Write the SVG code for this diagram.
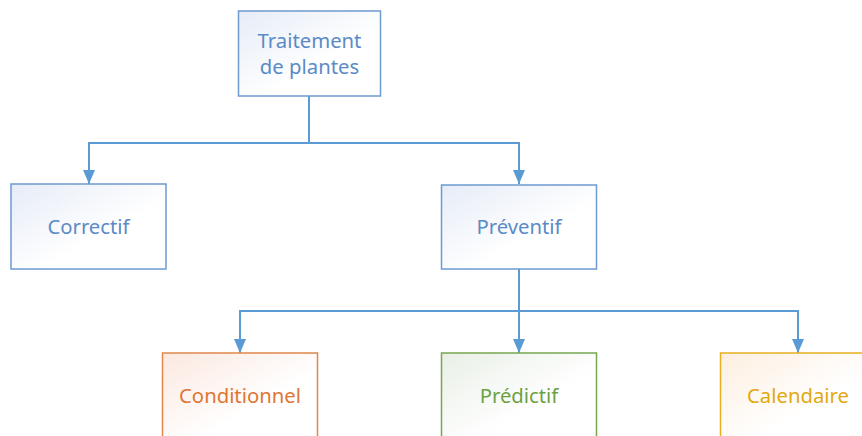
<svg xmlns="http://www.w3.org/2000/svg" width="862" height="436" viewBox="0 0 862 436">
<defs>
<linearGradient id="gBlue" x1="0" y1="0" x2="1" y2="1"><stop offset="0" stop-color="#e6ecf7"/><stop offset="0.6" stop-color="#ffffff"/></linearGradient>
<linearGradient id="gOrange" x1="0" y1="0" x2="1" y2="1"><stop offset="0" stop-color="#fbe8e0"/><stop offset="0.6" stop-color="#ffffff"/></linearGradient>
<linearGradient id="gGreen" x1="0" y1="0" x2="1" y2="1"><stop offset="0" stop-color="#e9efe6"/><stop offset="0.6" stop-color="#ffffff"/></linearGradient>
<linearGradient id="gGold" x1="0" y1="0" x2="1" y2="1"><stop offset="0" stop-color="#fdefe0"/><stop offset="0.6" stop-color="#ffffff"/></linearGradient>
<marker id="arr" markerWidth="14" markerHeight="12" refX="14" refY="6" orient="auto" markerUnits="userSpaceOnUse"><path d="M0,0 L14,6 L0,12 Z" fill="#5b9bd5"/></marker>
</defs>
<style>
.box{stroke-width:1.5}
.blue{fill:url(#gBlue);stroke:#6d9bd0}
.orange{fill:url(#gOrange);stroke:#e0874a}
.green{fill:url(#gGreen);stroke:#77a650}
.gold{fill:url(#gGold);stroke:#e6b020}
text{font-family:"Noto Sans","Open Sans",sans-serif;font-size:20.3px;text-anchor:middle}
.tb{fill:#5b8bc6}.to{fill:#de7634}.tg{fill:#6da244}.ty{fill:#e3a812}
.c{fill:none;stroke:#5b9bd5;stroke-width:2}
</style>
<g id="connectors">
<path class="c" d="M309,96 V143 H89 V184" marker-end="url(#arr)"/>
<path class="c" d="M309,143 H519 V184" marker-end="url(#arr)"/>
<path class="c" d="M519,269 V311 H240 V353" marker-end="url(#arr)"/>
<path class="c" d="M519,311 V353" marker-end="url(#arr)"/>
<path class="c" d="M519,311 H798 V353" marker-end="url(#arr)"/>
</g>
<g id="traitement"><rect class="box blue" x="238.5" y="11" width="142" height="85"/><text class="tb" x="309.5" y="48">Traitement</text><text class="tb" x="309.5" y="74">de plantes</text></g>
<g id="correctif"><rect class="box blue" x="11" y="184" width="155" height="85"/><text class="tb" x="88.5" y="234">Correctif</text></g>
<g id="preventif"><rect class="box blue" x="441.5" y="185" width="155" height="84"/><text class="tb" x="519" y="234">Préventif</text></g>
<g id="conditionnel"><rect class="box orange" x="162.5" y="353" width="155" height="90"/><text class="to" x="240" y="403">Conditionnel</text></g>
<g id="predictif"><rect class="box green" x="441.5" y="353" width="155" height="90"/><text class="tg" x="519" y="403">Prédictif</text></g>
<g id="calendaire"><rect class="box gold" x="720.5" y="353" width="155" height="90"/><text class="ty" x="798" y="403">Calendaire</text></g>
</svg>
